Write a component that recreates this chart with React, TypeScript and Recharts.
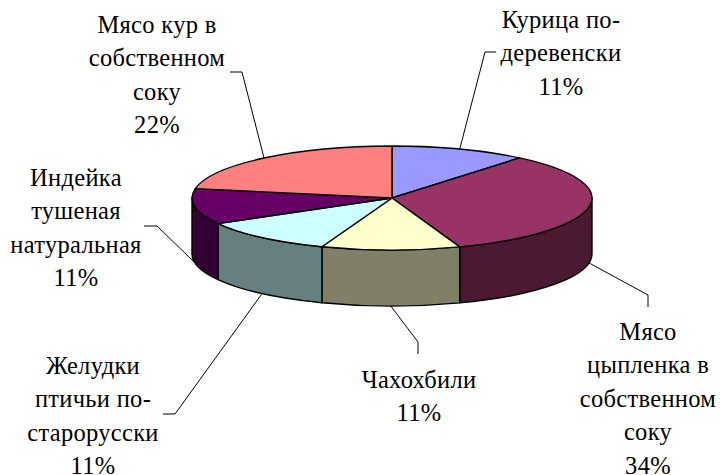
import { Pie, PieChart } from "recharts";

const categories = [
  "Курица по-деревенски",
  "Мясо цыпленка в собственном соку",
  "Чахохбили",
  "Желудки птичьи по-старорусски",
  "Индейка тушеная натуральная",
  "Мясо кур в собственном соку",
];
const shares = [11.0, 33.5, 11.2, 11.1, 11.1, 22.1];
const labelLines = [
  ["Курица по-", "деревенски"],
  ["Мясо", "цыпленка в", "собственном", "соку"],
  ["Чахохбили"],
  ["Желудки", "птичьи по-", "старорусски"],
  ["Индейка", "тушеная", "натуральная"],
  ["Мясо кур в", "собственном", "соку"],
];

const topColors = ["#9999ff", "#993366", "#ffffcc", "#ccffff", "#660066", "#ff8080"];
const wallColors = ["#4c4c80", "#4c1933", "#808066", "#668080", "#330033", "#804040"];

// label placement: text centre, first baseline, then the leader's elbow and end
const labelBoxes = [
  { x: 561, y: 28, leader: [[485, 52], [496, 52]] },
  { x: 648, y: 340, leader: [[648, 295], [648, 307]] },
  { x: 419, y: 388, leader: [[418, 342], [418, 354]] },
  { x: 93, y: 374, leader: [[175, 414], [163, 414]] },
  { x: 76, y: 186, leader: [[157, 226], [144, 226]] },
  { x: 157, y: 33, leader: [[242, 72], [230, 72]] },
];

const rows = categories.map((name, i) => ({ name, value: shares[i] }));

const RX = 200;
const RY = 52;
const DEPTH = 56;
const FONT = '"Liberation Serif", "Times New Roman", serif';

// t is the clockwise angle from the top of the pie, in degrees
const rim = (cx: number, cy: number, t: number) => {
  const rad = (t * Math.PI) / 180;
  return [cx + RX * Math.sin(rad), cy - RY * Math.cos(rad)];
};

const arc = (to: number[], from: number, end: number, sweep: number) =>
  `A ${RX} ${RY} 0 ${Math.abs(end - from) > 180 ? 1 : 0} ${sweep} ${to[0]} ${to[1]}`;

function TopFace(props: any) {
  const { cx, cy, startAngle, endAngle } = props;
  const i = categories.indexOf(props.name);
  const t0 = 90 - startAngle;
  const t1 = 90 - endAngle;
  const a = rim(cx, cy, t0);
  const b = rim(cx, cy, t1);
  return (
    <path
      d={`M ${cx} ${cy} L ${a[0]} ${a[1]} ${arc(b, t0, t1, 1)} Z`}
      fill={topColors[i]}
      stroke="#000"
      strokeWidth={1.4}
      strokeLinejoin="round"
    />
  );
}

function Wall(props: any) {
  const { cx, cy, startAngle, endAngle } = props;
  const i = categories.indexOf(props.name);
  // only the front half of the rim is visible
  const t0 = Math.max(90 - startAngle, 90);
  const t1 = Math.min(90 - endAngle, 270);
  if (t0 >= t1) return <g />;
  const a = rim(cx, cy, t0);
  const b = rim(cx, cy, t1);
  return (
    <path
      d={`M ${a[0]} ${a[1]} ${arc(b, t0, t1, 1)} L ${b[0]} ${b[1] + DEPTH} ${arc(
        [a[0], a[1] + DEPTH],
        t1,
        t0,
        0,
      )} Z`}
      fill={wallColors[i]}
      stroke="#000"
      strokeWidth={1.4}
      strokeLinejoin="round"
    />
  );
}

function SliceLabel(props: any) {
  const { cx, cy, midAngle, percent, name } = props;
  const i = categories.indexOf(name);
  const box = labelBoxes[i];
  const t = 90 - midAngle;
  const start = rim(cx, cy, t);
  const norm = ((t % 360) + 360) % 360;
  if (norm > 90 && norm < 270) start[1] += DEPTH;
  const lines = [...labelLines[i], `${Math.round(percent * 100)}%`];
  return (
    <g>
      <polyline
        points={[start, ...box.leader].map((p) => p.join(",")).join(" ")}
        fill="none"
        stroke="#000"
        strokeWidth={1}
      />
      <text textAnchor="middle" fontFamily={FONT} fontSize={24.5} letterSpacing={0.3} fill="#000">
        {lines.map((line, n) => (
          <tspan key={n} x={box.x} y={box.y + n * 33.4}>
            {line}
          </tspan>
        ))}
      </text>
    </g>
  );
}

export default function App() {
  return (
    <div style={{ position: "absolute", left: 0, top: 0, width: 720, height: 475, background: "#fff" }}>
      <PieChart width={720} height={475} margin={{ top: 0, right: 0, bottom: 0, left: 0 }}>
        <Pie
          data={rows}
          dataKey="value"
          nameKey="name"
          cx={392}
          cy={198}
          outerRadius={RX}
          startAngle={90}
          endAngle={-270}
          stroke="none"
          shape={Wall}
          isAnimationActive={false}
        />
        <Pie
          data={rows}
          dataKey="value"
          nameKey="name"
          cx={392}
          cy={198}
          outerRadius={RX}
          startAngle={90}
          endAngle={-270}
          shape={TopFace}
          label={SliceLabel}
          labelLine={false}
          isAnimationActive={false}
        />
      </PieChart>
    </div>
  );
}
